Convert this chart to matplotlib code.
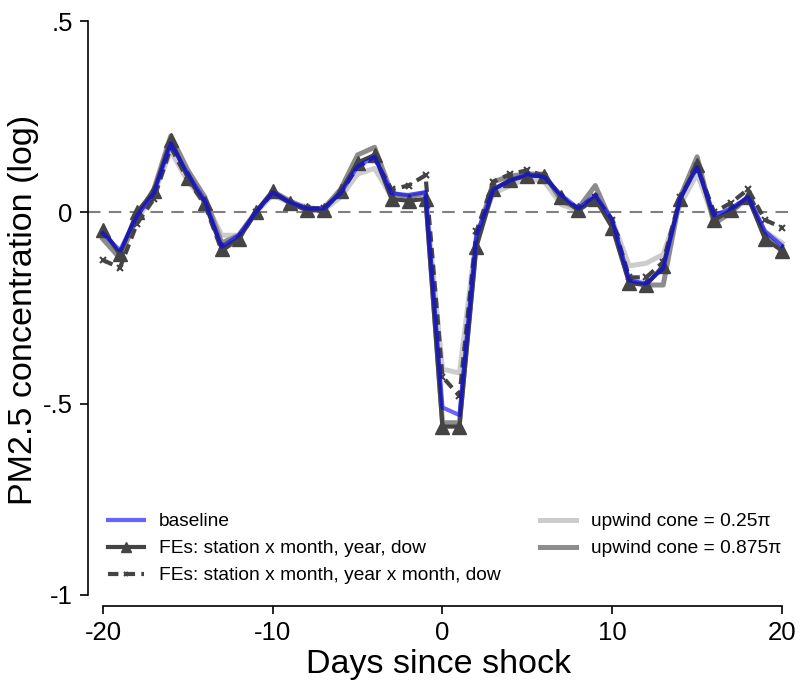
import numpy as np
import matplotlib.pyplot as plt

plt.rcParams['font.family'] = ['Liberation Sans', 'DejaVu Sans']

days = np.arange(-20, 21)

baseline = [-0.055, -0.10, -0.01, 0.05, 0.18, 0.10, 0.03, -0.09, -0.06, 0.0,
            0.052, 0.027, 0.01, 0.01, 0.05, 0.12, 0.145, 0.05, 0.045, 0.053,
            -0.51, -0.53, -0.06, 0.06, 0.083, 0.10, 0.092, 0.045, 0.01, 0.045,
            -0.02, -0.178, -0.186, -0.147, 0.036, 0.118, -0.008, 0.01, 0.04, -0.05,
            -0.087]
fe_year = [-0.045, -0.11, 0.0, 0.055, 0.19, 0.09, 0.025, -0.095, -0.07, 0.0,
           0.055, 0.025, 0.005, 0.005, 0.055, 0.13, 0.15, 0.035, 0.03, 0.035,
           -0.56, -0.56, -0.09, 0.06, 0.085, 0.095, 0.095, 0.04, 0.005, 0.035,
           -0.04, -0.185, -0.19, -0.14, 0.035, 0.125, -0.02, 0.005, 0.04, -0.07,
           -0.10]
fe_yearmonth = [-0.125, -0.145, -0.03, 0.035, 0.17, 0.085, 0.02, -0.10, -0.07, 0.0,
                0.05, 0.025, 0.01, 0.01, 0.05, 0.12, 0.14, 0.06, 0.07, 0.097,
                -0.43, -0.48, -0.05, 0.08, 0.10, 0.11, 0.095, 0.04, 0.01, 0.04,
                -0.02, -0.17, -0.17, -0.13, 0.04, 0.12, 0.0, 0.025, 0.06, -0.02,
                -0.04]
cone_025 = [-0.06, -0.11, -0.02, 0.05, 0.16, 0.08, 0.03, -0.06, -0.06, 0.0,
            0.045, 0.025, 0.015, 0.005, 0.04, 0.10, 0.115, 0.04, 0.045, 0.05,
            -0.41, -0.42, -0.06, 0.05, 0.07, 0.09, 0.08, 0.02, 0.005, 0.04,
            -0.02, -0.14, -0.133, -0.11, 0.02, 0.10, -0.02, 0.01, 0.035, -0.05,
            -0.08]
cone_0875 = [-0.07, -0.12, -0.01, 0.06, 0.20, 0.11, 0.04, -0.08, -0.06, 0.0,
             0.055, 0.03, 0.01, 0.01, 0.06, 0.15, 0.17, 0.05, 0.04, 0.05,
             -0.55, -0.55, -0.07, 0.08, 0.095, 0.10, 0.10, 0.03, 0.01, 0.07,
             -0.03, -0.18, -0.19, -0.19, 0.04, 0.145, -0.03, 0.0, 0.04, -0.06,
             -0.10]

x_ticks = [-20, -10, 0, 10, 20]
x_labels = ['-20', '-10', '0', '10', '20']
y_ticks = [-1, -0.5, 0, 0.5]
y_labels = ['-1', '-.5', '0', '.5']

W, H = 801, 696
fig = plt.figure(figsize=(W / 100, H / 100), dpi=100)
ax = fig.add_axes([88 / W, 90 / H, (790 - 88) / W, (606 - 13) / H])

ax.axhline(0, color='#808080', lw=1.5, ls=(0, (6, 4)), zorder=1)

l_c1, = ax.plot(days, cone_025, color='#cccccc', lw=3.6, zorder=2)
l_c2, = ax.plot(days, cone_0875, color='#8c8c8c', lw=3.6, zorder=3)
l_fe1, = ax.plot(days, fe_year, color='#444444', lw=3, marker='^', ms=10,
                 zorder=4)
l_fe2, = ax.plot(days, fe_yearmonth, color='#444444', lw=3, ls=(0, (2.5, 1.5)),
                 marker='x', ms=5, mew=1.5, zorder=5)
l_b, = ax.plot(days, baseline, color='#0000ff', alpha=0.6, lw=3, zorder=6)

ax.set_xlim(-20.88, 20.47)
ax.set_ylim(-1.029, 0.521)

for s in ['top', 'right']:
    ax.spines[s].set_visible(False)
ax.spines['left'].set_bounds(-1, 0.5)
ax.spines['bottom'].set_bounds(-20, 20)
ax.spines['left'].set_linewidth(1.2)
ax.spines['bottom'].set_linewidth(1.2)

ax.set_xticks(x_ticks)
ax.set_xticklabels(x_labels)
ax.set_yticks(y_ticks)
ax.set_yticklabels(y_labels)
ax.tick_params(axis='both', direction='out', length=6, width=1.2,
               labelsize=18.5, pad=5)

ax.set_xlabel('Days since shock', fontsize=24.5, labelpad=3)
ax.set_ylabel('PM2.5 concentration (log)', fontsize=24.5, labelpad=3)

leg_kw = dict(loc='upper left', frameon=False, fontsize=13.8,
              handlelength=1.9, handletextpad=0.75, labelspacing=0.5,
              borderaxespad=0, borderpad=0)
leg1 = ax.legend([l_b, l_fe1, l_fe2],
                 ['baseline', 'FEs: station x month, year, dow',
                  'FEs: station x month, year x month, dow'],
                 bbox_to_anchor=(20 / 702, (606 - 513) / 593),
                 markerscale=0.7, **leg_kw)
ax.add_artist(leg1)
ax.legend([l_c1, l_c2], ['upwind cone = 0.25\u03c0', 'upwind cone = 0.875\u03c0'],
          bbox_to_anchor=(452 / 702, (606 - 513) / 593), **leg_kw)

fig.savefig('out.png', dpi=100)
